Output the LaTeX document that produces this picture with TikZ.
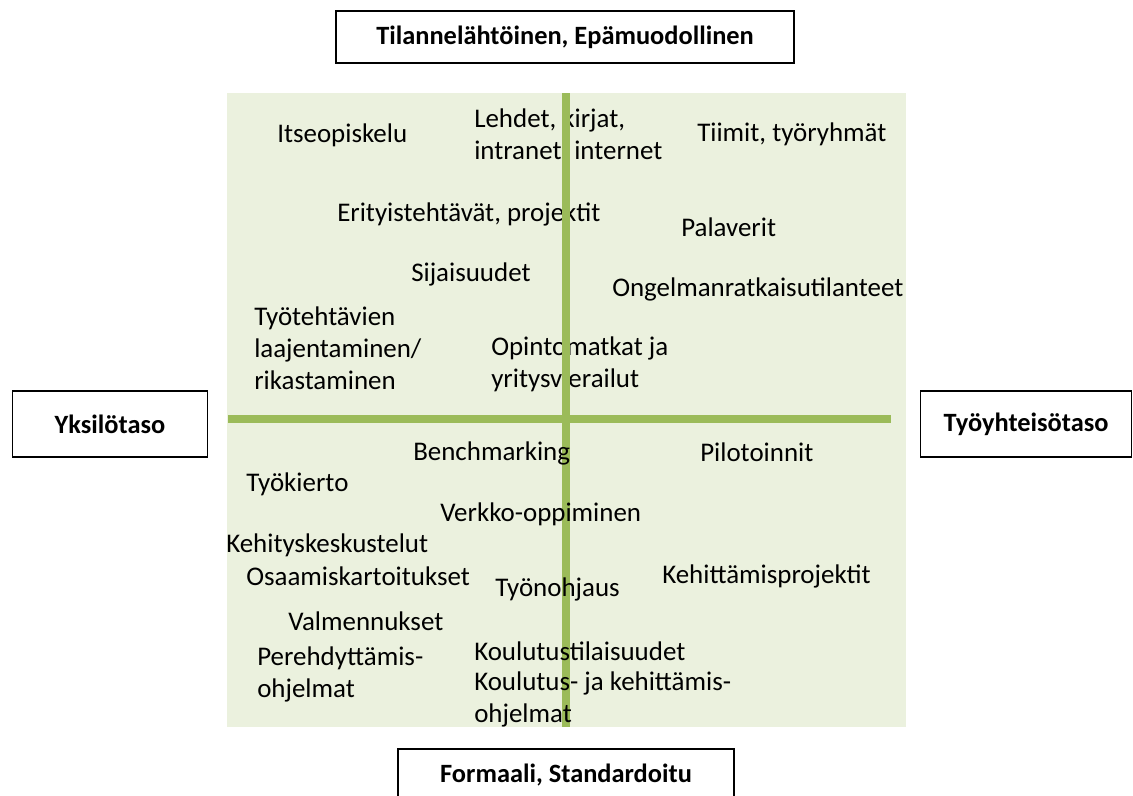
\documentclass[tikz,border=0pt]{standalone}
\usepackage{fontspec}
\setmainfont{Carlito}
\definecolor{quadfill}{HTML}{EBF1DE}
\definecolor{axisgreen}{HTML}{9BBB59}
\tikzset{
  item/.style={anchor=west, align=left, inner sep=0pt, font=\fontsize{20.2}{24}\selectfont},
  axisbox/.style={draw, line width=1.2pt, inner sep=0pt, minimum height=39pt, font=\bfseries\fontsize{19.8}{22}\selectfont},
  axisline/.style={draw=axisgreen, line width=6pt}
}
\begin{document}
\begin{tikzpicture}[x=0.75pt,y=-0.75pt]
  \useasboundingbox (0,0) rectangle (1133,796);
  % quadrant background
  \fill[quadfill] (227,93) rectangle (906,727);
  % upper half
  \foreach \n/\x/\y/\txt in {itse/277/135/Itseopiskelu,
      lehdet/474/136/{Lehdet, kirjat,\\intranet, internet},
      tiimit/697/134/{Tiimit, työryhmät},
      erit/337/214/{Erityistehtävät, projektit},
      palav/681/227/Palaverit,
      sijais/411/274/Sijaisuudet,
      ongel/612/289/Ongelmanratkaisutilanteet,
      tyoteht/254/348/{Työtehtävien\\laajentaminen/\\rikastaminen},
      opint/491/364/{Opintomatkat ja\\yritysvierailut}} {
    \node[item] (\n) at (\x,\y) {\txt};
  }
  % axes
  \coordinate (vtop) at (566,93);
  \coordinate (vbot) at (566,727);
  \coordinate (hleft) at (228,419);
  \coordinate (hright) at (891,419);
  \draw[axisline] (hleft) -- (hright);
  \draw[axisline] (vtop) -- (vbot);
  % lower half
  \foreach \n/\x/\y/\txt in {bench/413/453/Benchmarking,
      pilot/700/452/Pilotoinnit,
      kierto/246/484/Työkierto,
      verkko/440/514/Verkko-oppiminen,
      kehkesk/226/545/Kehityskeskustelut,
      osaam/246/576/Osaamiskartoitukset,
      kehproj/662/576/Kehittämisprojektit,
      tyonoh/495/589/Työnohjaus,
      valm/288/621/Valmennukset,
      pereh/257/674/{Perehdyttämis-\\ohjelmat},
      koultil/474/651/Koulutustilaisuudet,
      koulkeh/474/699/{Koulutus- ja kehittämis-\\ohjelmat}} {
    \node[item] (\n) at (\x,\y) {\txt};
  }
  % axis labels
  \node[axisbox, minimum width=343.5pt] (informal) at (565,37) {Tilannelähtöinen, Epämuodollinen};
  \node[axisbox, minimum width=146pt, minimum height=49.5pt] (yksilo) at (110,424) {Yksilötaso};
  \node[axisbox, minimum width=158pt, minimum height=49.5pt] (yhteiso) at (1026,424) {Työyhteisötaso};
  \node[axisbox, minimum width=252pt] (formal) at (566,775) {Formaali, Standardoitu};
\end{tikzpicture}
\end{document}
